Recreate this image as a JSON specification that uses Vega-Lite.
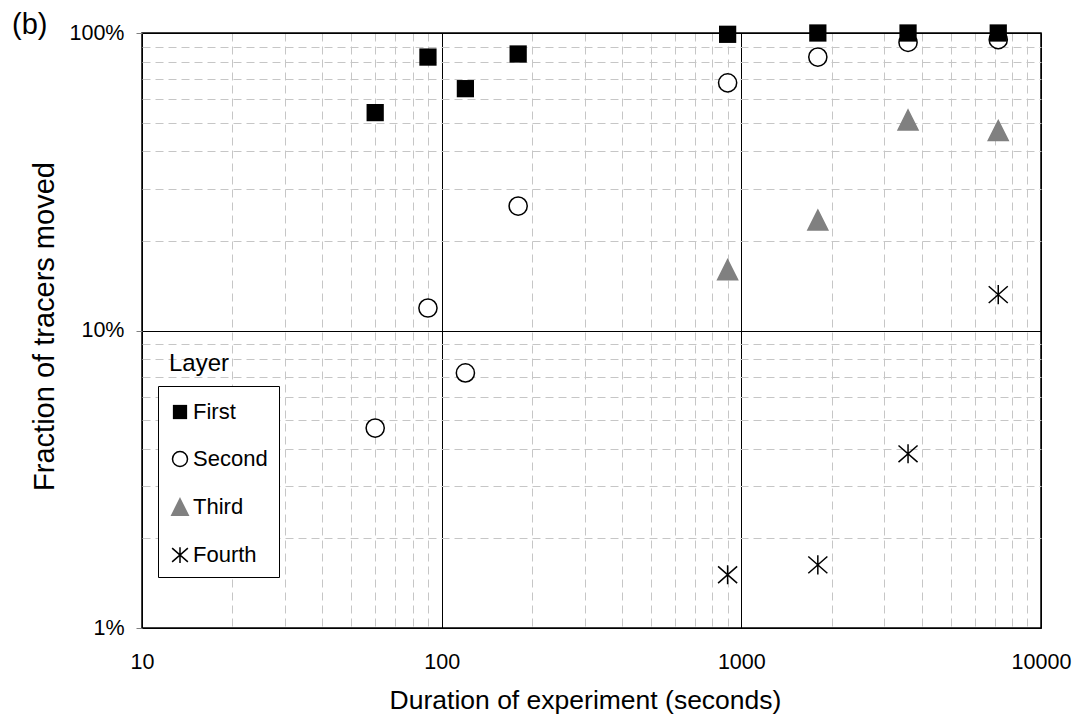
{
  "$schema": "https://vega.github.io/schema/vega-lite/v6.json",
  "width": 899,
  "height": 595,
  "autosize": {"type": "none"},
  "padding": {"left": 142, "top": 33, "right": 37, "bottom": 92},
  "background": "white",
  "title": {
    "text": "(b)",
    "anchor": "start",
    "frame": "group",
    "orient": "top",
    "font": "Liberation Sans",
    "fontSize": 29,
    "fontWeight": "normal",
    "color": "black",
    "baseline": "alphabetic",
    "offset": 0,
    "dx": -130,
    "dy": 42
  },
  "config": {
    "view": {"stroke": "black", "strokeWidth": 1.5},
    "axis": {
      "labelFont": "Liberation Sans",
      "titleFont": "Liberation Sans",
      "labelFontSize": 21.5,
      "titleFontSize": 26.5,
      "labelColor": "black",
      "titleColor": "black",
      "titleFontWeight": "normal",
      "domain": false
    },
    "legend": {
      "orient": "none",
      "legendX": 16,
      "legendY": 353,
      "strokeColor": "black",
      "strokeWidth": 1,
      "fillColor": "white",
      "padding": 11,
      "symbolSize": 225,
      "symbolStrokeWidth": 1.5,
      "symbolOpacity": 1,
      "labelFont": "Liberation Sans",
      "labelFontSize": 22,
      "labelColor": "black",
      "labelOffset": 2,
      "titleFont": "Liberation Sans",
      "titleFontSize": 24,
      "titleFontWeight": "normal",
      "titleColor": "black",
      "titleBaseline": "line-bottom",
      "titleLineHeight": 66,
      "titlePadding": -20,
      "rowPadding": 25
    }
  },
  "data": {
    "values": [
      {"Layer": "Fourth", "Duration": 900, "Fraction": 0.0151},
      {"Layer": "Fourth", "Duration": 1800, "Fraction": 0.0163},
      {"Layer": "Fourth", "Duration": 3600, "Fraction": 0.0385},
      {"Layer": "Fourth", "Duration": 7200, "Fraction": 0.132},
      {"Layer": "Third", "Duration": 900, "Fraction": 0.16},
      {"Layer": "Third", "Duration": 1800, "Fraction": 0.235},
      {"Layer": "Third", "Duration": 3600, "Fraction": 0.51},
      {"Layer": "Third", "Duration": 7200, "Fraction": 0.47},
      {"Layer": "Second", "Duration": 60, "Fraction": 0.047},
      {"Layer": "Second", "Duration": 90, "Fraction": 0.119},
      {"Layer": "Second", "Duration": 120, "Fraction": 0.072},
      {"Layer": "Second", "Duration": 180, "Fraction": 0.262},
      {"Layer": "Second", "Duration": 900, "Fraction": 0.68},
      {"Layer": "Second", "Duration": 1800, "Fraction": 0.83},
      {"Layer": "Second", "Duration": 3600, "Fraction": 0.93},
      {"Layer": "Second", "Duration": 7200, "Fraction": 0.95},
      {"Layer": "First", "Duration": 60, "Fraction": 0.54},
      {"Layer": "First", "Duration": 90, "Fraction": 0.83},
      {"Layer": "First", "Duration": 120, "Fraction": 0.65},
      {"Layer": "First", "Duration": 180, "Fraction": 0.85},
      {"Layer": "First", "Duration": 900, "Fraction": 0.99},
      {"Layer": "First", "Duration": 1800, "Fraction": 1.0},
      {"Layer": "First", "Duration": 3600, "Fraction": 1.0},
      {"Layer": "First", "Duration": 7200, "Fraction": 1.0}
    ]
  },
  "mark": {"type": "point", "size": 330, "strokeWidth": 1.5, "opacity": 1, "clip": false},
  "encoding": {
    "x": {
      "field": "Duration",
      "type": "quantitative",
      "scale": {"type": "log", "domain": [10, 10000], "nice": false},
      "axis": {
        "title": "Duration of experiment (seconds)",
        "values": [10, 20, 30, 40, 50, 60, 70, 80, 90, 100, 200, 300, 400, 500, 600, 700, 800, 900, 1000, 2000, 3000, 4000, 5000, 6000, 7000, 8000, 9000, 10000],
        "labelExpr": "indexof([10, 100, 1000, 10000], datum.value) >= 0 ? datum.value + '' : ''",
        "grid": true,
        "gridColor": {"condition": {"test": "indexof([10, 100, 1000, 10000], datum.value) >= 0", "value": "#000000"}, "value": "#c6c6c6"},
        "gridDash": {"condition": {"test": "indexof([10, 100, 1000, 10000], datum.value) >= 0", "value": []}, "value": [8, 5]},
        "gridWidth": 1,
        "ticks": false,
        "tickSize": 0,
        "labelPadding": 23,
        "labelFlush": false,
        "labelOverlap": false,
        "titlePadding": 15,
        "titleX": 443
      }
    },
    "y": {
      "field": "Fraction",
      "type": "quantitative",
      "scale": {"type": "log", "domain": [0.01, 1], "nice": false},
      "axis": {
        "title": "Fraction of tracers moved",
        "titleFontSize": 29,
        "values": [0.01, 0.02, 0.03, 0.04, 0.05, 0.06, 0.07, 0.08, 0.09, 0.1, 0.2, 0.3, 0.4, 0.5, 0.6, 0.7, 0.8, 0.9, 1],
        "labelExpr": "indexof([0.01, 0.1, 1], datum.value) >= 0 ? format(datum.value, '.0%') : ''",
        "grid": true,
        "gridColor": {"condition": {"test": "indexof([0.01, 0.1, 1], datum.value) >= 0", "value": "#000000"}, "value": "#c6c6c6"},
        "gridDash": {"condition": {"test": "indexof([0.01, 0.1, 1], datum.value) >= 0", "value": []}, "value": [8, 5]},
        "gridWidth": 1,
        "tickColor": "#808080",
        "tickOpacity": {"condition": {"test": "indexof([0.01, 0.1, 1], datum.value) >= 0", "value": 1}, "value": 0},
        "tickSize": 6,
        "labelPadding": 12,
        "labelFlush": false,
        "labelOverlap": false,
        "titlePadding": 10,
        "titleY": 293
      }
    },
    "shape": {
      "field": "Layer",
      "type": "nominal",
      "scale": {
        "domain": ["First", "Second", "Third", "Fourth"],
        "range": ["M-0.95,-0.95H0.95V0.95H-0.95Z", "circle", "M0,-1.1L1.1,1.1L-1.1,1.1Z", "M0,-1.05L0,1.05M-1.05,-0.92L1.05,0.92M-1.05,0.92L1.05,-0.92"]
      },
      "legend": {"title": "Layer"}
    },
    "fill": {
      "field": "Layer",
      "type": "nominal",
      "scale": {"domain": ["First", "Second", "Third", "Fourth"], "range": ["#000000", "#ffffff", "#808080", "transparent"]},
      "legend": {"title": "Layer"}
    },
    "stroke": {
      "field": "Layer",
      "type": "nominal",
      "scale": {"domain": ["First", "Second", "Third", "Fourth"], "range": ["transparent", "#000000", "#808080", "#000000"]},
      "legend": {"title": "Layer"}
    }
  }
}
